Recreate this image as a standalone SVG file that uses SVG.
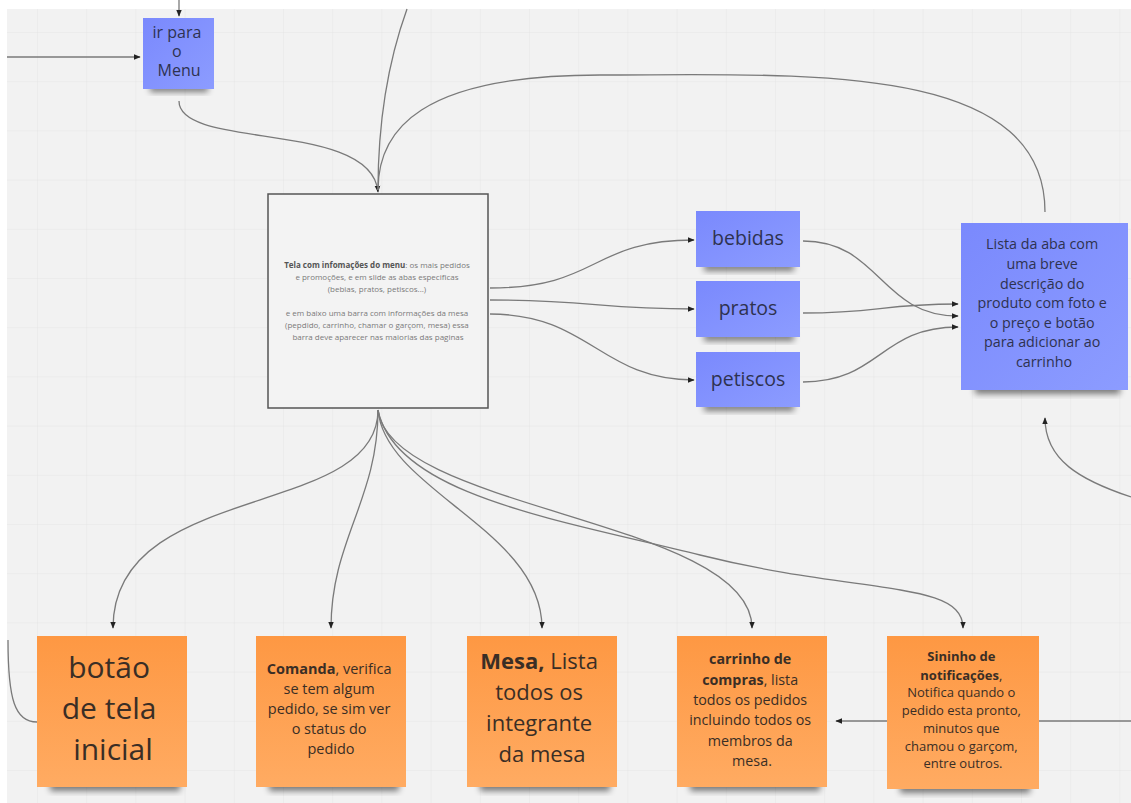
<svg xmlns="http://www.w3.org/2000/svg" width="1131" height="803" viewBox="0 0 1131 803">
<defs>
  <pattern id="grid" x="37" y="32" width="49.2" height="49.2" patternUnits="userSpaceOnUse">
    <path d="M0,0 V49.2 M0,0 H49.2" stroke="#e5e5e5" stroke-width="1" fill="none"/>
  </pattern>
  <linearGradient id="blue" x1="0" y1="0" x2="1" y2="1">
    <stop offset="0" stop-color="#7a89fd"/>
    <stop offset="1" stop-color="#8c9cff"/>
  </linearGradient>
  <linearGradient id="orange" x1="0" y1="0" x2="0" y2="1">
    <stop offset="0" stop-color="#fe9843"/>
    <stop offset="1" stop-color="#ffab62"/>
  </linearGradient>
  <filter id="blur" x="-20%" y="-50%" width="140%" height="200%">
    <feGaussianBlur stdDeviation="3"/>
  </filter>
  <marker id="arr" viewBox="0 0 10 10" refX="9" refY="5" markerWidth="7" markerHeight="7" orient="auto" markerUnits="userSpaceOnUse">
    <path d="M0,1 L10,5 L0,9 Z" fill="#222"/>
  </marker>
</defs>
<style>
  .conn { fill: none; stroke: #7a7a7a; stroke-width: 1.3; }
  .arrow { marker-end: url(#arr); }
  .shadow { fill: #000; opacity: 0.5; filter: url(#blur); }
  .bnote { fill: url(#blue); }
  .onote { fill: url(#orange); }
  .bt { font-family: "Open Sans", "Noto Sans", "Liberation Sans", sans-serif; fill: #2e3250; text-anchor: middle; }
  .ot { font-family: "Open Sans", "Noto Sans", "Liberation Sans", sans-serif; fill: #3a2e25; text-anchor: middle; }
  .ct { font-family: "Open Sans", "Noto Sans", "Liberation Sans", sans-serif; fill: #7a7a7a; text-anchor: middle; font-size: 8px; }
  .b { font-weight: bold; }
</style>

<rect x="0" y="0" width="1131" height="803" fill="#ffffff"/>
<rect x="7" y="9" width="1124" height="794" fill="#f2f2f2"/>
<rect x="7" y="9" width="1124" height="794" fill="url(#grid)"/>

<g id="connectors">
  <path class="conn arrow" d="M179,0 L179,16"/>
  <path class="conn arrow" d="M7,57 L140,57"/>
  <path class="conn arrow" d="M179,101 C179,150 372,120 378,192"/>
  <path class="conn" d="M407,9 C385,70 378,130 378,190"/>
  <path class="conn" d="M1045,212 C1045,60 800,75 600,75 C420,75 378,130 378,190"/>
  <path class="conn arrow" d="M490,288 C600,288 590,240 694,240"/>
  <path class="conn arrow" d="M490,300 C590,300 600,309 694,309"/>
  <path class="conn arrow" d="M490,314 C590,314 600,380 694,380"/>
  <path class="conn arrow" d="M803,241 C880,241 880,316 958,316"/>
  <path class="conn arrow" d="M803,313 C880,313 880,304 958,304"/>
  <path class="conn arrow" d="M803,382 C880,382 880,327 958,327"/>
  <path class="conn arrow" d="M1131,497 C1080,480 1045,460 1045,418"/>
  <path class="conn arrow" d="M378,410 C378,520 113,480 113,628"/>
  <path class="conn arrow" d="M378,410 C378,500 331,540 331,628"/>
  <path class="conn arrow" d="M378,410 C385,490 542,530 542,628"/>
  <path class="conn arrow" d="M378,410 C390,510 752,520 752,628"/>
  <path class="conn arrow" d="M378,410 C395,495 560,520 700,555 C860,595 963,580 963,628"/>
  <path class="conn" d="M8,640 C8,700 15,722 37,722"/>
  <path class="conn arrow" d="M1131,721 L836,721"/>
</g>

<g id="node-ir-menu">
  <rect class="shadow" x="150" y="84" width="58" height="8"/>
  <rect class="bnote" x="143" y="18" width="71" height="71"/>
  <text class="bt" font-size="16">
    <tspan x="179" y="38">ir para</tspan>
    <tspan x="179" y="57">o</tspan>
    <tspan x="179" y="76">Menu</tspan>
  </text>
</g>

<g id="node-tela-menu">
  <rect x="268" y="194" width="220" height="214" fill="#f3f3f3" stroke="#555" stroke-width="1.5"/>
  <text class="ct">
    <tspan x="378" y="268"><tspan class="b" fill="#555">Tela com infomações do menu</tspan>: os mais pedidos</tspan>
    <tspan x="378" y="280">e promoções, e em slide as abas especificas</tspan>
    <tspan x="378" y="292">(bebias, pratos, petiscos...)</tspan>
    <tspan x="378" y="316">e em baixo uma barra com informações da mesa</tspan>
    <tspan x="378" y="328">(pepdido, carrinho, chamar o garçom, mesa) essa</tspan>
    <tspan x="378" y="340">barra deve aparecer nas maiorias das paginas</tspan>
  </text>
</g>

<g id="node-bebidas">
  <rect class="shadow" x="704" y="263" width="90" height="8"/>
  <rect class="bnote" x="696" y="211" width="104" height="56"/>
  <text class="bt" font-size="19.5" x="748" y="245">bebidas</text>
</g>

<g id="node-pratos">
  <rect class="shadow" x="704" y="333" width="90" height="8"/>
  <rect class="bnote" x="696" y="281" width="104" height="56"/>
  <text class="bt" font-size="19.5" x="748" y="315">pratos</text>
</g>

<g id="node-petiscos">
  <rect class="shadow" x="704" y="403" width="90" height="8"/>
  <rect class="bnote" x="696" y="352" width="104" height="55"/>
  <text class="bt" font-size="19.5" x="748" y="386">petiscos</text>
</g>

<g id="node-lista-aba">
  <rect class="shadow" x="975" y="384" width="145" height="10"/>
  <rect class="bnote" x="961" y="223" width="167" height="167"/>
  <text class="bt" font-size="14.3">
    <tspan x="1044" y="249">Lista da aba com</tspan>
    <tspan x="1044" y="269">uma breve</tspan>
    <tspan x="1044" y="289">descrição do</tspan>
    <tspan x="1044" y="308">produto com foto e</tspan>
    <tspan x="1044" y="328">o preço e botão</tspan>
    <tspan x="1044" y="347">para adicionar ao</tspan>
    <tspan x="1044" y="367">carrinho</tspan>
  </text>
</g>

<g id="node-botao">
  <rect class="shadow" x="50" y="781" width="130" height="10"/>
  <rect class="onote" x="37" y="636" width="150" height="151"/>
  <text class="ot" font-size="30">
    <tspan x="113" y="678">botão</tspan>
    <tspan x="113" y="719">de tela</tspan>
    <tspan x="113" y="760">inicial</tspan>
  </text>
</g>

<g id="node-comanda">
  <rect class="shadow" x="269" y="781" width="130" height="10"/>
  <rect class="onote" x="256" y="636" width="150" height="151"/>
  <text class="ot" font-size="14.5">
    <tspan x="331" y="674"><tspan class="b">Comanda</tspan>, verifica</tspan>
    <tspan x="331" y="694">se tem algum</tspan>
    <tspan x="331" y="714">pedido, se sim ver</tspan>
    <tspan x="331" y="734">o status do</tspan>
    <tspan x="331" y="754">pedido</tspan>
  </text>
</g>

<g id="node-mesa">
  <rect class="shadow" x="480" y="781" width="130" height="10"/>
  <rect class="onote" x="467" y="636" width="150" height="151"/>
  <text class="ot" font-size="22">
    <tspan x="542" y="669"><tspan class="b">Mesa,</tspan> Lista</tspan>
    <tspan x="542" y="700">todos os</tspan>
    <tspan x="542" y="731">integrante</tspan>
    <tspan x="542" y="762">da mesa</tspan>
  </text>
</g>

<g id="node-carrinho">
  <rect class="shadow" x="690" y="781" width="130" height="10"/>
  <rect class="onote" x="677" y="636" width="150" height="151"/>
  <text class="ot" font-size="14.3">
    <tspan x="752" y="664" class="b">carrinho de</tspan>
    <tspan x="752" y="685"><tspan class="b">compras</tspan>, lista</tspan>
    <tspan x="752" y="705">todos os pedidos</tspan>
    <tspan x="752" y="725">incluindo todos os</tspan>
    <tspan x="752" y="746">membros da</tspan>
    <tspan x="752" y="766">mesa.</tspan>
  </text>
</g>

<g id="node-sininho">
  <rect class="shadow" x="900" y="783" width="130" height="10"/>
  <rect class="onote" x="887" y="636" width="152" height="153"/>
  <text class="ot" font-size="13">
    <tspan x="963" y="661" class="b">Sininho de</tspan>
    <tspan x="963" y="680"><tspan class="b">notificações</tspan>,</tspan>
    <tspan x="963" y="697">Notifica quando o</tspan>
    <tspan x="963" y="715">pedido esta pronto,</tspan>
    <tspan x="963" y="733">minutos que</tspan>
    <tspan x="963" y="751">chamou o garçom,</tspan>
    <tspan x="963" y="768">entre outros.</tspan>
  </text>
</g>
</svg>
